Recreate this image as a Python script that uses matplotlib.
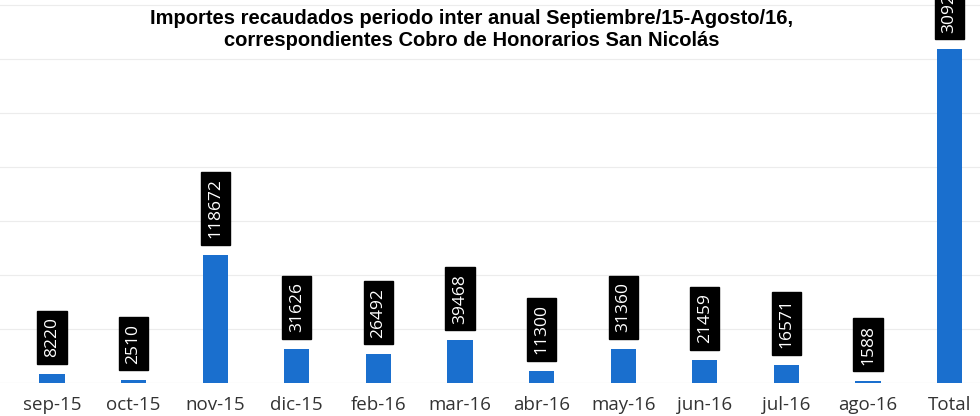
import matplotlib.pyplot as plt

meses = ["sep-15", "oct-15", "nov-15", "dic-15", "feb-16", "mar-16",
         "abr-16", "may-16", "jun-16", "jul-16", "ago-16", "Total"]
importes = [8220, 2510, 118672, 31626, 26492, 39468,
            11300, 31360, 21459, 16571, 1588, 309266]

titulo = ("Importes recaudados periodo inter anual Septiembre/15-Agosto/16,\n"
          "correspondientes Cobro de Honorarios San Nicolás")

fig = plt.figure(figsize=(9.8, 4.16), dpi=100)
ax = fig.add_axes([0.0, 1 - 383 / 416, 1.0, 383 / 416])

x = list(range(len(meses)))
ax.bar(x, importes, width=0.31, color="#1a6fce", zorder=3)

# lineas de grilla suaves
for v in range(50000, 400000, 50000):
    ax.axhline(v, color="#ececec", lw=0.8, zorder=1)
ax.axhline(0, color="#d9d9d9", lw=0.8, zorder=1)

for xi, val in zip(x, importes):
    ax.annotate(str(val), (xi, val), xytext=(0, 12), textcoords="offset points",
                rotation=90, ha="center", va="bottom", color="white",
                fontsize=12.5, family="Open Sans", zorder=4,
                bbox=dict(boxstyle="square,pad=0.38", fc="black", ec="black"),
                annotation_clip=False)

ax.set_xlim(-52 / 81.6, (980 - 52) / 81.6)
ax.set_ylim(0, 355000)
ax.set_xticks(x)
ax.set_xticklabels(meses, fontsize=13.5, family="Open Sans", color="#333333")
ax.tick_params(axis="x", length=0, pad=9)
ax.set_yticks([])
for s in ax.spines.values():
    s.set_visible(False)

fig.text(472 / 980, 1 - 29 / 416, titulo, ha="center", va="center",
         fontsize=14.5, fontweight="bold", family="Liberation Sans",
         linespacing=1.2)

fig.savefig("out.png", dpi=100)
